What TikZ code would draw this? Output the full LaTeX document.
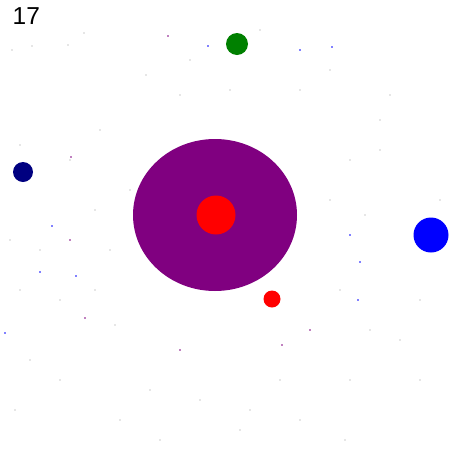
\documentclass[tikz,border=0pt]{standalone}
\usepackage{fontspec}
\setmainfont{Liberation Sans}
\definecolor{pmag}{RGB}{128,0,128}
\definecolor{navyc}{RGB}{0,0,128}
\definecolor{greenc}{RGB}{0,128,0}
\definecolor{dotg}{RGB}{205,205,205}
\begin{document}
\begin{tikzpicture}[x=1pt,y=-1pt,
  blob/.style={fill=#1,draw=none},
  speck/.style={fill=#1,draw=none,minimum size=0pt}]
\useasboundingbox (0,0) rectangle (450,456);
\fill[white] (0,0) rectangle (450,456);
% faint specks
\foreach \x/\y in {84/33,68/45,146/75,12/50,32/46,100/130,70/160,20/145,380/150,350/160,390/95,300/90,180/95,40/250,10/240,95/290,115/325,30/360,60/380,150/390,200/400,240/430,300/420,350/380,400/340,420/300,440/200,380/120,330/70,260/30,190/60,230/90,130/190,95/210,60/300,20/290,330/200,365/215,340/290,280/380,120/420,420/380,160/440,250/410,345/440,15/410,110/250,370/330}
  \fill[dotg] (\x,\y) circle (0.8);
\foreach \x/\y/\c in {168/36/pmag,208/46/blue,300/50/blue,332/47/blue,71/157/pmag,52/226/blue,76/276/blue,85/318/pmag,180/350/pmag,350/235/blue,360/262/blue,358/300/blue,310/330/pmag,5/333/blue,282/345/pmag,262/167/blue,276/182/blue,70/240/pmag,40/272/blue}
  \fill[\c] (\x,\y) circle (0.8);
% bodies
\fill[blob=pmag] (215,215) ellipse [x radius=82, y radius=76];
\fill[blob=red] (216,215) circle (19.5);
\fill[blob=red] (272,299) circle (8.5);
\fill[blob=blue] (431,235) circle (17.5);
\fill[blob=navyc] (23,172) circle (10);
\fill[blob=greenc] (237,44) circle (11);
\node[anchor=north west, inner sep=0pt, font=\fontsize{24.5}{26}\selectfont, text=black] (lbl) at (12.5,7.5) {17};
\end{tikzpicture}
\end{document}
